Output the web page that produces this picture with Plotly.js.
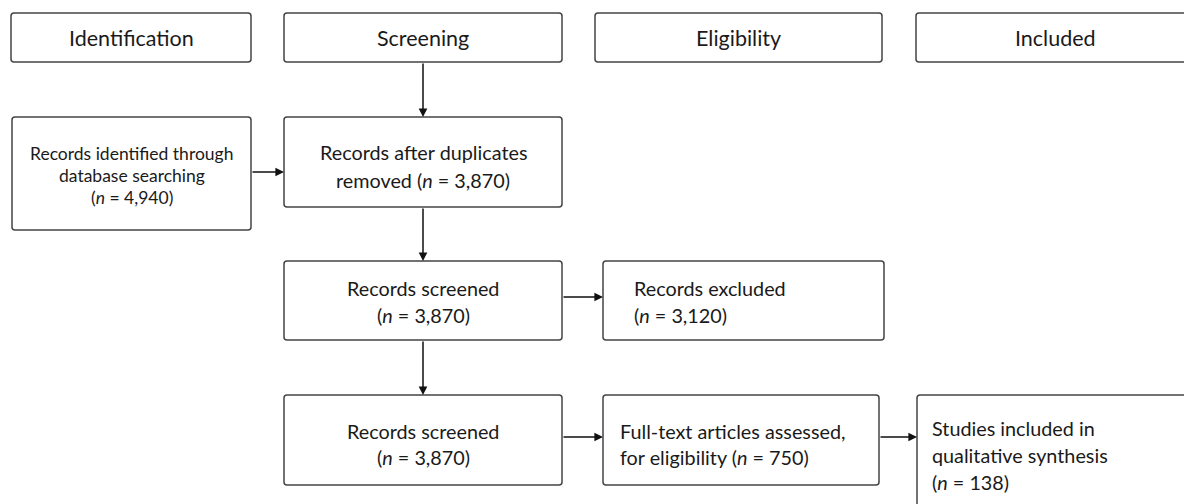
<!DOCTYPE html>
<html>
<head>
<meta charset="utf-8">
<script src="https://cdn.plot.ly/plotly-3.0.1.min.js"></script>
<style>html,body{margin:0;padding:0;background:#fff;}#chart{width:1184px;height:504px;}</style>
</head>
<body>
<div id="chart"></div>
<script>
// ---- data ----
const stages = ['Identification', 'Screening', 'Eligibility', 'Included'];
const boxLines = [
  ['Records identified through', 'database searching'],
  ['Records after duplicates', 'removed'],
  ['Records screened'],
  ['Records excluded'],
  ['Records screened'],
  ['Full-text articles assessed,', 'for eligibility'],
  ['Studies included in', 'qualitative synthesis']
];
const counts = [4940, 3870, 3870, 3120, 3870, 750, 138];
const countPlacement = ['newline', 'inline', 'newline', 'newline', 'newline', 'inline', 'newline'];
const edges = [[0, 1], [1, 2], [2, 3], [2, 4], [4, 5], [5, 6]];

// ---- geometry (layout only) ----
const headerGeom = [[11, 251], [284, 562], [595, 882], [916, 1200]];
const headerY = [13, 62];
const boxGeom = [
  {x0: 12, x1: 251, y0: 117, y1: 230, align: 'center', size: 17.5, lh: 22, c: 175},
  {x0: 284, x1: 562, y0: 117, y1: 207, align: 'center', size: 19.8, lh: 28, c: 166},
  {x0: 284, x1: 562, y0: 261, y1: 340, align: 'center', size: 19.8, lh: 27, c: 301.5},
  {x0: 603, x1: 884, y0: 261, y1: 340, align: 'left', tx: 632, size: 19.8, lh: 27, c: 301.5},
  {x0: 284, x1: 562, y0: 395, y1: 485, align: 'center', size: 19.8, lh: 26, c: 444},
  {x0: 603, x1: 879, y0: 395, y1: 485, align: 'left', tx: 618, size: 19.8, lh: 26, c: 444},
  {x0: 917, x1: 1200, y0: 395, y1: 520, align: 'left', tx: 930, size: 19.8, lh: 27, c: 455}
];
const hArrowY = {0: 172, 2: 297, 4: 437, 5: 437};

const fontFam = 'Lato, "Open Sans", sans-serif';
const lineCol = '#444';
const txtCol = '#1a1a1a';
const shapes = [];
const annotations = [];

function rect(x0, y0, x1, y1) {
  const r = 3;
  const p = 'M' + (x0 + r) + ',' + y0 + ' L' + (x1 - r) + ',' + y0 + ' Q' + x1 + ',' + y0 + ' ' + x1 + ',' + (y0 + r) +
    ' L' + x1 + ',' + (y1 - r) + ' Q' + x1 + ',' + y1 + ' ' + (x1 - r) + ',' + y1 +
    ' L' + (x0 + r) + ',' + y1 + ' Q' + x0 + ',' + y1 + ' ' + x0 + ',' + (y1 - r) +
    ' L' + x0 + ',' + (y0 + r) + ' Q' + x0 + ',' + y0 + ' ' + (x0 + r) + ',' + y0 + ' Z';
  shapes.push({type: 'path', xref: 'x', yref: 'y', path: p,
    line: {color: lineCol, width: 1.5}, fillcolor: 'rgba(0,0,0,0)'});
}

stages.forEach((s, i) => {
  const g = headerGeom[i];
  rect(g[0], headerY[0], g[1], headerY[1]);
  const cx = (g[0] + Math.min(g[1], 1194)) / 2;
  annotations.push({x: cx, y: (headerY[0] + headerY[1]) / 2, xref: 'x', yref: 'y',
    text: s, showarrow: false, font: {family: fontFam, size: 21.5, color: txtCol}});
});

function fmt(n) { return n.toLocaleString('en-US'); }

boxLines.forEach((lines, i) => {
  const g = boxGeom[i];
  rect(g.x0, g.y0, g.x1, g.y1);
  const nTxt = '(<i>n</i> = ' + fmt(counts[i]) + ')';
  let all = lines.slice();
  if (countPlacement[i] === 'inline') all[all.length - 1] = all[all.length - 1] + ' ' + nTxt;
  else all.push(nTxt);
  const start = g.c - (all.length - 1) * g.lh / 2;
  all.forEach((t, k) => {
    const a = {xref: 'x', yref: 'y', y: start + k * g.lh, text: t, showarrow: false,
      font: {family: fontFam, size: g.size, color: txtCol}};
    if (g.align === 'center') { a.x = (g.x0 + g.x1) / 2; a.xanchor = 'center'; }
    else { a.x = g.tx; a.xanchor = 'left'; }
    annotations.push(a);
  });
});

function arrow(x0, y0, x1, y1) {
  annotations.push({xref: 'x', yref: 'y', axref: 'x', ayref: 'y', x: x1, y: y1, ax: x0, ay: y0,
    text: '', showarrow: true, arrowhead: 2, arrowsize: 1.15, arrowwidth: 1.5, arrowcolor: '#111', standoff: 0});
}

const midX = (boxGeom[1].x0 + boxGeom[1].x1) / 2;
arrow(midX, headerY[1], midX, boxGeom[1].y0);
edges.forEach(e => {
  const a = boxGeom[e[0]], b = boxGeom[e[1]];
  if (Math.abs(a.x0 - b.x0) < 5) {
    const x = (a.x0 + a.x1) / 2;
    arrow(x, a.y1, x, b.y0);
  } else {
    const y = hArrowY[e[0]];
    arrow(a.x1, y, b.x0, y);
  }
});

const layout = {
  width: 1184, height: 504,
  margin: {l: 0, r: 0, t: 0, b: 0},
  paper_bgcolor: '#fff', plot_bgcolor: '#fff',
  xaxis: {range: [0, 1184], visible: false, fixedrange: true},
  yaxis: {range: [504, 0], visible: false, fixedrange: true},
  shapes: shapes, annotations: annotations, showlegend: false
};
Plotly.newPlot('chart', [{x: [0], y: [0], mode: 'markers', marker: {opacity: 0}, hoverinfo: 'skip'}], layout, {staticPlot: true});
</script>
</body>
</html>
